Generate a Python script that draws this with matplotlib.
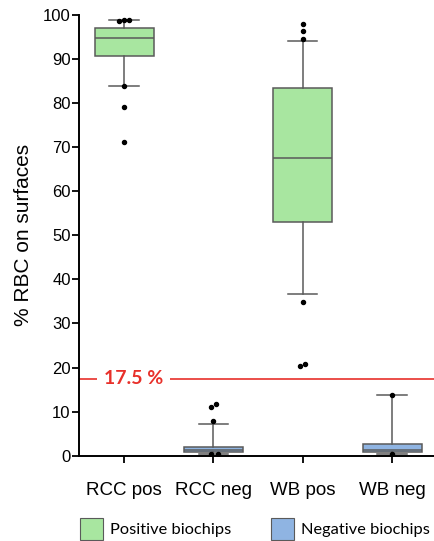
import matplotlib
matplotlib.use("Agg")
import matplotlib.pyplot as plt
from matplotlib.patches import Patch

plt.rcParams["font.family"] = ["Liberation Sans", "DejaVu Sans"]

categories = ["RCC pos", "RCC neg", "WB pos", "WB neg"]
q1 = [90.7, 0.8, 53.0, 0.8]
median = [94.8, 1.3, 67.5, 1.3]
q3 = [97.0, 2.0, 83.4, 2.7]
whisker_low = [83.9, 0.3, 36.8, 0.3]
whisker_high = [98.8, 7.2, 94.1, 13.8]
outliers = [
    [98.7, 98.8, 98.9, 83.9, 79.1, 71.1],
    [7.9, 11.0, 11.8, 0.3, 0.3],
    [94.5, 96.4, 98.0, 34.8, 20.3, 20.9],
    [13.8, 0.3],
]
outlier_jitter = [
    [-0.06, 0.0, 0.06, 0.0, 0.0, 0.0],
    [0.0, -0.03, 0.03, -0.03, 0.05],
    [0.0, 0.0, 0.0, 0.0, -0.03, 0.03],
    [0.0, 0.0],
]
group_kind = ["pos", "neg", "pos", "neg"]
threshold = 17.5
yticks = [0, 10, 20, 30, 40, 50, 60, 70, 80, 90, 100]

green = "#a8e6a0"
blue = "#8fb4e2"
edge = "#5a5a5a"
red = "#e8302a"

fig = plt.figure(figsize=(4.35, 5.41), dpi=100)
ax = fig.add_axes([79 / 435, 1 - 455.7 / 541, 1 - 79 / 435, (455.7 - 15) / 541])

positions = list(range(1, len(categories) + 1))
stats = []
for i, c in enumerate(categories):
    stats.append(dict(label=c, med=median[i], q1=q1[i], q3=q3[i],
                      whislo=whisker_low[i], whishi=whisker_high[i], fliers=[]))

bp = ax.bxp(stats, positions=positions, widths=0.66, capwidths=0.33,
            patch_artist=True, showfliers=False,
            boxprops=dict(edgecolor=edge, linewidth=1.1),
            medianprops=dict(color=edge, linewidth=1.1),
            whiskerprops=dict(color=edge, linewidth=1.1),
            capprops=dict(color=edge, linewidth=1.1))
for box, kind in zip(bp["boxes"], group_kind):
    box.set_facecolor(green if kind == "pos" else blue)

for p, vals, jit in zip(positions, outliers, outlier_jitter):
    ax.plot([p + j for j in jit], vals, "o", color="black", markersize=2.9,
            linestyle="none", zorder=5)

ax.axhline(threshold, color=red, linewidth=1.2, zorder=1)
ax.text(1.11, threshold, "17.5 %", color=red, fontsize=14, fontweight="bold",
        family="Lato", ha="center", va="center",
        bbox=dict(facecolor="white", edgecolor="none", pad=5), zorder=3)

ax.set_xlim(0.496, 4.48)
ax.set_ylim(0, 100)
ax.set_yticks(yticks)
ax.set_xticks(positions)
ax.set_xticklabels(categories)
ax.tick_params(axis="x", labelsize=13.5, pad=14)
ax.tick_params(axis="y", labelsize=12, pad=1)
ax.set_ylabel("% RBC on surfaces", fontsize=15, labelpad=7)
ax.tick_params(axis="both", direction="out", length=5, width=1.3, colors="black")
for s in ["top", "right"]:
    ax.spines[s].set_visible(False)
for s in ["left", "bottom"]:
    ax.spines[s].set_linewidth(1.4)

handles = [Patch(facecolor=green, edgecolor=edge, linewidth=0.8, label="Positive biochips"),
           Patch(facecolor=blue, edgecolor=edge, linewidth=0.8, label="Negative biochips")]
fig.legend(handles=handles, loc="upper left", bbox_to_anchor=(80 / 435, 1 - 518 / 541),
           ncol=2, frameon=False, prop=dict(family="Lato", size=11.8),
           handlelength=1.4, handleheight=1.7, handletextpad=0.45,
           columnspacing=2.4, borderpad=0, borderaxespad=0)

fig.savefig("out.png", dpi=100)
